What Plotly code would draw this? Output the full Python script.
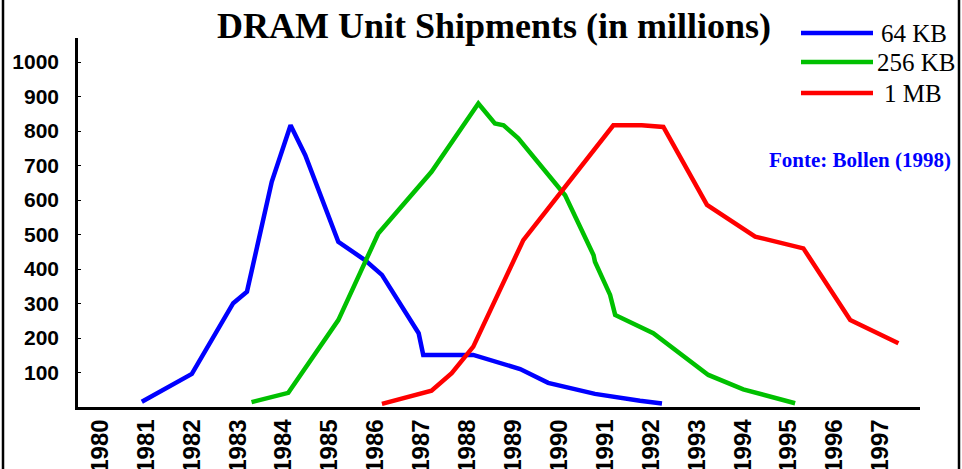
import plotly.graph_objects as go

# ---- data ----
series_names = ["64 KB", "256 KB", "1 MB"]
series_colors = ["#0000FF", "#00C000", "#FF0000"]

years_64kb = [1980.91, 1982.0, 1982.9, 1983.2, 1983.74, 1984.15, 1984.47, 1985.19,
              1985.77, 1986.14, 1986.94, 1987.04, 1988.13, 1989.15, 1989.76,
              1990.78, 1991.76, 1992.24]
units_64kb = [15, 96, 301, 334, 653, 817, 730, 479,
              426, 383, 214, 151, 151, 110, 70,
              38, 18, 10]

years_256kb = [1983.3, 1984.1, 1985.19, 1986.06, 1987.22, 1988.24, 1988.6, 1988.79,
               1989.11, 1990.02, 1990.13, 1990.75, 1990.78, 1991.11, 1991.22,
               1992.05, 1993.25, 1994.01, 1995.14]
units_256kb = [14, 41, 252, 503, 682, 880, 822, 817,
               779, 629, 614, 440, 421, 325, 267,
               214, 93, 51, 11]

years_1mb = [1986.14, 1987.22, 1987.66, 1988.13, 1989.22, 1990.06, 1991.18, 1991.8,
             1992.27, 1993.22, 1994.27, 1995.32, 1996.34, 1997.39]
units_1mb = [9, 47, 98, 175, 484, 629, 817, 817,
             812, 586, 494, 460, 252, 185]

year_ticks = list(range(1980, 1998))
unit_ticks = [100, 200, 300, 400, 500, 600, 700, 800, 900, 1000]

title_text = "DRAM Unit Shipments (in millions)"
source_text = "Fonte: Bollen (1998)"

# ---- layout geometry ----
W, H = 962, 469
L, R, T, B = 78, 42, 38, 62
PW, PH = W - L - R, H - T - B


def px_x(x):
    return (x - L) / PW


def px_y(y):
    return (H - B - y) / PH


fig = go.Figure()
series = [(years_64kb, units_64kb), (years_256kb, units_256kb), (years_1mb, units_1mb)]
for (xs, ys), name, color in zip(series, series_names, series_colors):
    fig.add_trace(go.Scatter(x=xs, y=ys, mode="lines", name=name,
                             line=dict(color=color, width=4.5),
                             showlegend=False, hoverinfo="skip"))

shapes = []
annotations = []
# manual legend
legend_y = [33, 62, 93]
legend_tx = [879, 875, 882]
for name, color, ly, tx in zip(series_names, series_colors, legend_y, legend_tx):
    shapes.append(dict(type="line", xref="paper", yref="paper",
                       x0=px_x(801), x1=px_x(873), y0=px_y(ly), y1=px_y(ly),
                       line=dict(color=color, width=4.5)))
    annotations.append(dict(text=name, xref="paper", yref="paper",
                            x=px_x(tx), y=px_y(ly), xanchor="left", yanchor="middle",
                            showarrow=False,
                            font=dict(family="Liberation Serif", size=25, color="black")))

annotations.append(dict(text=source_text, xref="paper", yref="paper",
                        x=px_x(860), y=px_y(160), xanchor="center", yanchor="middle",
                        showarrow=False,
                        font=dict(family="Liberation Serif", size=21, color="#0000FF",
                                  weight="bold")))

# outer frame lines (left / right)
for fx in (3, 959):
    shapes.append(dict(type="line", xref="paper", yref="paper",
                       x0=px_x(fx), x1=px_x(fx), y0=px_y(0), y1=px_y(H),
                       line=dict(color="black", width=2.5)))

fig.update_layout(
    width=W, height=H,
    margin=dict(l=L, r=R, t=T, b=B, autoexpand=False),
    paper_bgcolor="white", plot_bgcolor="white",
    title=dict(text=title_text, xref="container", yref="container",
               x=494 / W, y=1 - 25 / H, xanchor="center", yanchor="middle",
               font=dict(family="Liberation Serif", size=36, color="black",
                         weight="bold")),
    shapes=shapes, annotations=annotations,
    showlegend=False, hovermode=False,
)

fig.update_xaxes(range=[1979.52, 1997.86], tickvals=year_ticks,
                 ticktext=[str(y) for y in year_ticks], tickangle=-90,
                 showgrid=False, zeroline=False, showline=True,
                 linecolor="black", linewidth=2.5, ticks="", automargin=False,
                 ticklabelstandoff=0,
                 tickfont=dict(family="Liberation Sans", size=24, color="black",
                               weight="bold"))
fig.update_yaxes(range=[0, 1070], tickvals=unit_ticks,
                 ticktext=[str(v) for v in unit_ticks],
                 showgrid=False, zeroline=False, showline=True,
                 linecolor="black", linewidth=2.5, ticks="inside", ticklen=3,
                 tickcolor="black", automargin=False, ticklabelstandoff=12,
                 tickfont=dict(family="Liberation Sans", size=21, color="black",
                               weight="bold"))

fig.write_html("out.html", config={"displayModeBar": False},
               post_script="document.body.style.margin='0';document.body.style.overflow='hidden';")
